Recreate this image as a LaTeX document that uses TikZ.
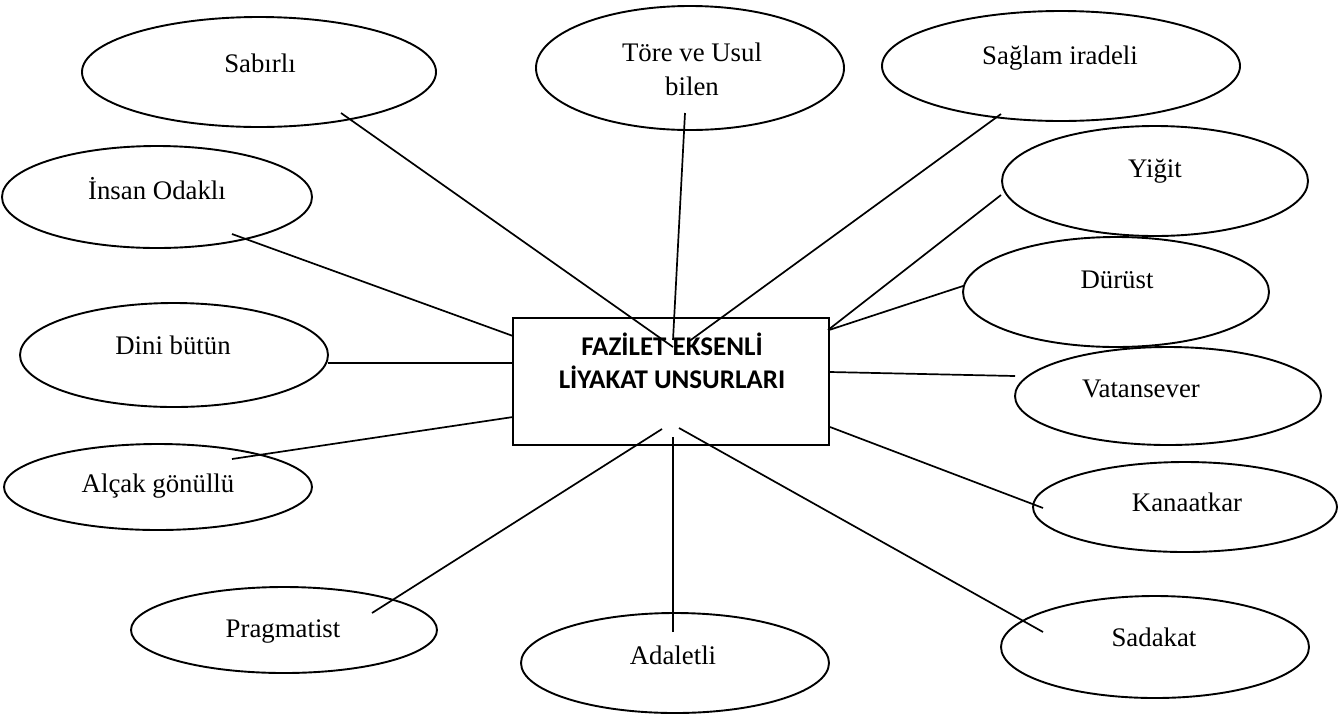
\documentclass[tikz,border=0pt]{standalone}
\usepackage{fontspec}
\setmainfont{Liberation Serif}
\newfontfamily\carlito{Carlito}
\usetikzlibrary{shapes.geometric}
\begin{document}
\begin{tikzpicture}[x=1pt,y=-1pt,
  oval/.style={ellipse,draw,line width=1.9pt,inner sep=0pt},
  lbl/.style={font=\fontsize{26.8}{34}\selectfont,anchor=base,inner sep=0pt,align=center},
  conn/.style={line width=1.7pt}]
\useasboundingbox (0,0) rectangle (1338,713);
% central box
\node[draw,line width=1.9pt,minimum width=316pt,minimum height=127pt,inner sep=0pt] (box) at (671,381.5) {};
\node[font=\carlito\bfseries\fontsize{27}{33.5}\selectfont,anchor=base,inner sep=0pt,align=center] (boxt) at (672,388.5) {FAZİLET EKSENLİ\\LİYAKAT UNSURLARI};
% ellipses
\node[oval,minimum width=354pt,minimum height=110pt] (sab) at (259,72) {};
\node[oval,minimum width=308pt,minimum height=124pt] (tore) at (690,68) {};
\node[oval,minimum width=358pt,minimum height=110pt] (sag) at (1061,66) {};
\node[oval,minimum width=310pt,minimum height=102pt] (ins) at (157,197) {};
\node[oval,minimum width=306pt,minimum height=110pt] (yig) at (1155,181) {};
\node[oval,minimum width=306pt,minimum height=110pt] (dur) at (1116,292) {};
\node[oval,minimum width=308pt,minimum height=104pt] (dini) at (174,355) {};
\node[oval,minimum width=306pt,minimum height=98pt] (vat) at (1168,396) {};
\node[oval,minimum width=308pt,minimum height=86pt] (alc) at (158,487) {};
\node[oval,minimum width=304pt,minimum height=90pt] (kan) at (1185,507) {};
\node[oval,minimum width=306pt,minimum height=86pt] (prag) at (284,630) {};
\node[oval,minimum width=308pt,minimum height=100pt] (ada) at (675,663) {};
\node[oval,minimum width=308pt,minimum height=102pt] (sad) at (1155,647) {};
% labels
\node[lbl] (sabt) at (260,72) {Sabırlı};
\node[lbl] (toret) at (692,95) {Töre ve Usul\\bilen};
\node[lbl] (sagt) at (1060,64) {Sağlam iradeli};
\node[lbl] (inst) at (157,199) {İnsan Odaklı};
\node[lbl] (yigt) at (1155,177) {Yiğit};
\node[lbl] (durt) at (1117,288) {Dürüst};
\node[lbl] (dinit) at (173,354) {Dini bütün};
\node[lbl] (vatt) at (1141,397) {Vatansever};
\node[lbl] (alct) at (158,492) {Alçak gönüllü};
\node[lbl] (kant) at (1187,511) {Kanaatkar};
\node[lbl] (pragt) at (283,637) {Pragmatist};
\node[lbl] (adat) at (673,664) {Adaletli};
\node[lbl] (sadt) at (1154,646) {Sadakat};
% connector end points
\coordinate (sabe) at (341,113);   \coordinate (bsab) at (673,347);
\coordinate (toree) at (685,113);  \coordinate (btore) at (673,340);
\coordinate (sage) at (1001,114);  \coordinate (bsag) at (688,342);
\coordinate (inse) at (232,234);   \coordinate (bins) at (513,336);
\coordinate (yige) at (1001,195);  \coordinate (byig) at (828,330);
\coordinate (dure) at (963,286);   \coordinate (bdur) at (829,330);
\coordinate (dinie) at (328,363);  \coordinate (bdini) at (513,363);
\coordinate (vate) at (1015,376);  \coordinate (bvat) at (830,372);
\coordinate (alce) at (232,459);   \coordinate (balc) at (513,417);
\coordinate (kane) at (1043,508);  \coordinate (bkan) at (830,427);
\coordinate (prage) at (372,613);  \coordinate (bprag) at (662,429);
\coordinate (adae) at (673,632);   \coordinate (bada) at (673,437);
\coordinate (sade) at (1043,632);  \coordinate (bsad) at (679,428);
% connectors
\draw[conn] (sabe) -- (bsab);
\draw[conn] (toree) -- (btore);
\draw[conn] (sage) -- (bsag);
\draw[conn] (inse) -- (bins);
\draw[conn] (yige) -- (byig);
\draw[conn] (dure) -- (bdur);
\draw[conn] (dinie) -- (bdini);
\draw[conn] (vate) -- (bvat);
\draw[conn] (alce) -- (balc);
\draw[conn] (kane) -- (bkan);
\draw[conn] (prage) -- (bprag);
\draw[conn] (adae) -- (bada);
\draw[conn] (sade) -- (bsad);
\end{tikzpicture}
\end{document}
